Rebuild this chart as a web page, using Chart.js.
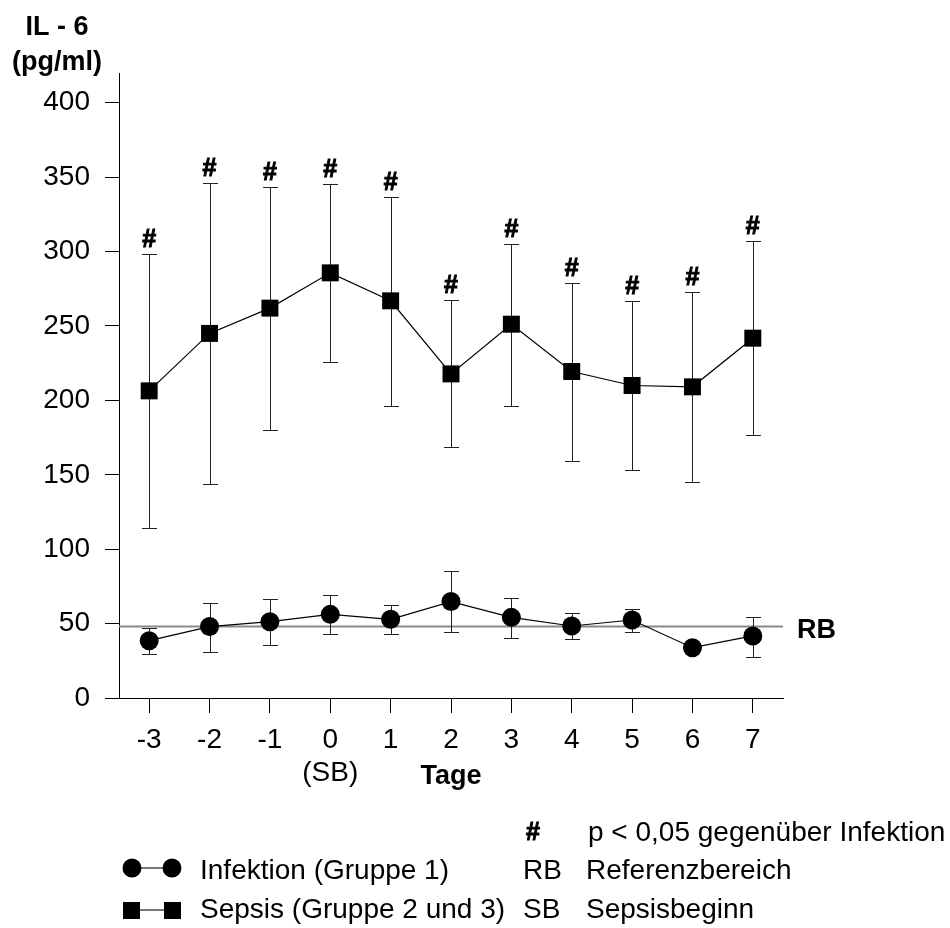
<!DOCTYPE html>
<html>
<head>
<meta charset="utf-8">
<script src="https://cdn.jsdelivr.net/npm/chart.js@4.4.1/dist/chart.umd.min.js"></script>
<style>
  html, body { margin: 0; padding: 0; background: #fff; }
  canvas { display: block; }
</style>
</head>
<body>
<canvas id="chart" width="950" height="928"></canvas>
<script>
const days = ['-3', '-2', '-1', '0', '1', '2', '3', '4', '5', '6', '7']
const yTicks = [0, 50, 100, 150, 200, 250, 300, 350, 400]

// Infektion (Gruppe 1)
const infektion = [38.5, 48, 51.3, 56.2, 52.9, 64.8, 54.2, 48.4, 52.4, 33.8, 41.7]
const infektionUpper = [47.3, 63.6, 66.6, 69.5, 62.8, 85.6, 67.4, 56.9, 59.8, 36, 54.7]
const infektionLower = [29.6, 31, 35.6, 42.7, 42.8, 44.1, 40.1, 39.4, 44.6, 31.5, 27.8]

// Sepsis (Gruppe 2 und 3)
const sepsis = [206.4, 245, 262, 285.7, 266.9, 217.8, 251.2, 219.4, 210, 209.1, 241.8]
const sepsisUpper = [298.5, 346.4, 343.3, 345.3, 337, 267.6, 305.2, 278.8, 266.6, 272.9, 306.9]
const sepsisLower = [114, 143.7, 180.2, 226, 196.5, 168.5, 196.5, 159, 153, 145, 177]
const sepsisSignificant = [true, true, true, true, true, true, true, true, true, true, true]

const referenceValue = 48

const FONT = '"Liberation Sans", Arial, Helvetica, sans-serif'
Chart.defaults.font.family = FONT
Chart.defaults.color = '#000'

// draws a bold "#" a bit heavier, like the original print
function hash(ctx, x, y) {
  ctx.fillText('#', x, y)
  ctx.lineWidth = 1
  ctx.strokeStyle = '#000'
  ctx.strokeText('#', x, y)
}

const overlay = {
  id: 'overlay',
  beforeDatasetsDraw(chart) {
    const { ctx, chartArea, scales: { x, y } } = chart
    ctx.save()

    // reference range line (RB)
    const ry = y.getPixelForValue(referenceValue)
    ctx.strokeStyle = '#8a8a8a'
    ctx.lineWidth = 2
    ctx.beginPath()
    ctx.moveTo(chartArea.left, ry)
    ctx.lineTo(chartArea.right, ry)
    ctx.stroke()

    // error bars
    const bars = (upper, lower) => {
      ctx.strokeStyle = '#222'
      ctx.lineWidth = 1
      upper.forEach((u, i) => {
        const px = Math.round(x.getPixelForValue(i)) + 0.5
        const top = Math.round(y.getPixelForValue(u)) + 0.5
        const bot = Math.round(y.getPixelForValue(lower[i])) + 0.5
        ctx.beginPath()
        ctx.moveTo(px, top); ctx.lineTo(px, bot)
        ctx.moveTo(px - 7.5, top); ctx.lineTo(px + 7.5, top)
        ctx.moveTo(px - 7.5, bot); ctx.lineTo(px + 7.5, bot)
        ctx.stroke()
      })
    }
    bars(sepsisUpper, sepsisLower)
    bars(infektionUpper, infektionLower)
    ctx.restore()
  },
  afterDraw(chart) {
    const { ctx, scales: { x, y } } = chart
    ctx.save()
    ctx.fillStyle = '#000'

    // significance marks
    ctx.font = 'bold 25px ' + FONT
    ctx.textAlign = 'center'
    ctx.textBaseline = 'alphabetic'
    sepsisSignificant.forEach((s, i) => {
      if (!s) return
      hash(ctx, x.getPixelForValue(i), y.getPixelForValue(sepsisUpper[i]) - 7)
    })

    // axis titles
    ctx.font = 'bold 27px ' + FONT
    ctx.textBaseline = 'middle'
    ctx.fillText('IL - 6', 57, 28)
    ctx.fillText('(pg/ml)', 57, 63)
    ctx.fillText('Tage', x.getPixelForValue(5), 777)

    ctx.textAlign = 'left'
    ctx.fillText('RB', 797, 631)

    // legend
    ctx.font = 'bold 25px ' + FONT
    hash(ctx, 526, 833)
    ctx.font = '28px ' + FONT
    ctx.fillText('p < 0,05 gegenüber Infektion', 588, 833)
    ctx.fillText('Infektion (Gruppe 1)', 200, 871)
    ctx.fillText('RB', 523, 871)
    ctx.fillText('Referenzbereich', 586, 871)
    ctx.fillText('Sepsis (Gruppe 2 und 3)', 200, 910)
    ctx.fillText('SB', 523, 910)
    ctx.fillText('Sepsisbeginn', 586, 910)

    ctx.strokeStyle = '#777'
    ctx.lineWidth = 2
    ctx.beginPath()
    ctx.moveTo(132, 868); ctx.lineTo(172, 868)
    ctx.moveTo(131, 910); ctx.lineTo(172, 910)
    ctx.stroke()
    ctx.beginPath()
    ctx.arc(132, 868, 9.5, 0, Math.PI * 2)
    ctx.arc(172, 868, 9.5, 0, Math.PI * 2)
    ctx.fill()
    ctx.fillRect(123, 902, 17, 17)
    ctx.fillRect(164, 902, 17, 17)
    ctx.restore()
  }
}

new Chart(document.getElementById('chart'), {
  type: 'line',
  data: {
    labels: days,
    datasets: [
      {
        label: 'Sepsis (Gruppe 2 und 3)',
        data: sepsis,
        borderColor: '#000',
        backgroundColor: '#000',
        borderWidth: 1.2,
        pointStyle: 'rect',
        pointRadius: 12,
        pointBorderWidth: 0,
        tension: 0
      },
      {
        label: 'Infektion (Gruppe 1)',
        data: infektion,
        borderColor: '#000',
        backgroundColor: '#000',
        borderWidth: 1.2,
        pointStyle: 'circle',
        pointRadius: 9.5,
        pointBorderWidth: 0,
        tension: 0
      }
    ]
  },
  options: {
    responsive: false,
    animation: false,
    layout: { padding: { top: 73, right: 167, left: 0, bottom: 0 } },
    plugins: {
      legend: { display: false },
      tooltip: { enabled: false }
    },
    scales: {
      x: {
        type: 'category',
        offset: true,
        grid: { display: true, drawOnChartArea: false, offset: false, tickLength: 15, color: '#000' },
        border: { display: true, color: '#000', width: 1 },
        ticks: {
          color: '#000',
          font: { size: 28 },
          padding: 10,
          maxRotation: 0,
          autoSkip: false,
          callback: (v, i) => days[i] === '0' ? ['0', '(SB)'] : days[i]
        },
        afterFit: (scale) => { scale.height = 230 }
      },
      y: {
        min: 0,
        max: 420,
        grid: { display: true, drawOnChartArea: false, tickLength: 14, color: '#000' },
        border: { display: true, color: '#000', width: 1 },
        ticks: { color: '#000', font: { size: 28 }, padding: 15, stepSize: 50 },
        afterBuildTicks: (scale) => { scale.ticks = yTicks.map(v => ({ value: v })) },
        afterFit: (scale) => { scale.width = 119 }
      }
    }
  },
  plugins: [overlay]
})
</script>
</body>
</html>
